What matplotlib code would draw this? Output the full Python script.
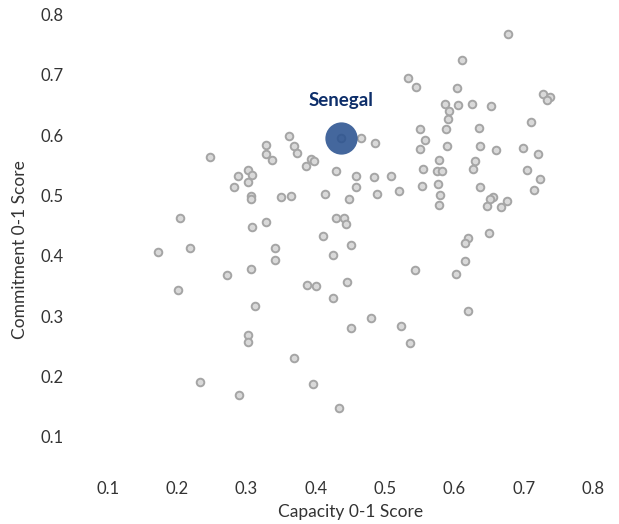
import matplotlib.pyplot as plt

plt.rcParams['font.family'] = ['Lato', 'DejaVu Sans']

# Capacity (x) and commitment (y) scores
capacity = [0.247, 0.204, 0.172, 0.218, 0.282, 0.288, 0.303, 0.308, 0.302, 0.306,
            0.306, 0.308, 0.328, 0.328, 0.328, 0.337, 0.361, 0.368, 0.373, 0.350,
            0.364, 0.341, 0.341, 0.386, 0.393, 0.397, 0.413, 0.410, 0.425, 0.429,
            0.430, 0.441, 0.443, 0.448, 0.451, 0.458, 0.458, 0.436, 0.465, 0.677,
            0.611, 0.533, 0.544, 0.604, 0.586, 0.592, 0.591, 0.605, 0.625, 0.653,
            0.728, 0.738, 0.733, 0.710, 0.550, 0.588, 0.635, 0.557, 0.550, 0.589,
            0.637, 0.660, 0.699, 0.720, 0.485, 0.578, 0.555, 0.575, 0.582, 0.630,
            0.627, 0.705, 0.723, 0.715, 0.484, 0.508, 0.488, 0.520, 0.553, 0.576,
            0.579, 0.578, 0.637, 0.656, 0.651, 0.647, 0.667, 0.676, 0.619, 0.615,
            0.650, 0.615, 0.202, 0.272, 0.306, 0.387, 0.400, 0.445, 0.425, 0.312,
            0.451, 0.303, 0.302, 0.368, 0.233, 0.290, 0.396, 0.433, 0.543, 0.602,
            0.619, 0.480, 0.523, 0.536]
commitment = [0.564, 0.463, 0.407, 0.413, 0.514, 0.532, 0.542, 0.534, 0.522, 0.499,
              0.494, 0.448, 0.456, 0.584, 0.569, 0.559, 0.599, 0.582, 0.571, 0.498,
              0.499, 0.413, 0.393, 0.549, 0.561, 0.557, 0.503, 0.433, 0.402, 0.541,
              0.463, 0.463, 0.453, 0.494, 0.418, 0.532, 0.514, 0.595, 0.595, 0.768,
              0.725, 0.695, 0.680, 0.678, 0.652, 0.640, 0.627, 0.650, 0.652, 0.648,
              0.668, 0.663, 0.658, 0.622, 0.610, 0.610, 0.612, 0.592, 0.577, 0.582,
              0.582, 0.576, 0.579, 0.569, 0.587, 0.559, 0.544, 0.541, 0.541, 0.557,
              0.544, 0.542, 0.527, 0.509, 0.531, 0.532, 0.503, 0.508, 0.516, 0.519,
              0.501, 0.484, 0.514, 0.498, 0.494, 0.483, 0.481, 0.491, 0.430, 0.421,
              0.438, 0.392, 0.344, 0.368, 0.378, 0.352, 0.350, 0.357, 0.330, 0.317,
              0.281, 0.269, 0.257, 0.231, 0.190, 0.170, 0.188, 0.148, 0.377, 0.370,
              0.309, 0.297, 0.284, 0.256]

highlight = "Senegal"
sen_x = 0.436
sen_y = 0.595

ticks = [0.1, 0.2, 0.3, 0.4, 0.5, 0.6, 0.7, 0.8]
tick_labels = ["0.1", "0.2", "0.3", "0.4", "0.5", "0.6", "0.7", "0.8"]

fig = plt.figure(figsize=(6.19, 5.24), dpi=100)
ax = fig.add_axes([0.118, 0.109, 0.840, 0.863])

ax.scatter(capacity, commitment, s=30, facecolor='#d9d9d9', edgecolor='#a5a5a5',
           linewidth=1.4, zorder=2)
ax.scatter([sen_x], [sen_y], s=540, color='#2a5290', alpha=0.88, linewidth=0, zorder=3)
ax.text(sen_x, 0.657, highlight, ha='center', va='center', fontsize=13.5,
        fontweight='bold', color='#0d2e6a')

ax.set_xlim(0.05, 0.8)
ax.set_ylim(0.05, 0.8)
ax.set_xticks(ticks)
ax.set_xticklabels(tick_labels)
ax.set_yticks(ticks)
ax.set_yticklabels(tick_labels)
ax.tick_params(length=0, labelsize=12, labelcolor='#333333')
ax.tick_params(axis='x', pad=10)
ax.tick_params(axis='y', pad=7)
for sp in ax.spines.values():
    sp.set_visible(False)

ax.set_xlabel("Capacity 0-1 Score", fontsize=12.5, color='#333333')
ax.xaxis.set_label_coords(0.533, -0.082)
ax.set_ylabel("Commitment 0-1 Score", fontsize=12.5, color='#333333')
ax.yaxis.set_label_coords(-0.086, 0.48)

fig.savefig("out.png", dpi=100)
